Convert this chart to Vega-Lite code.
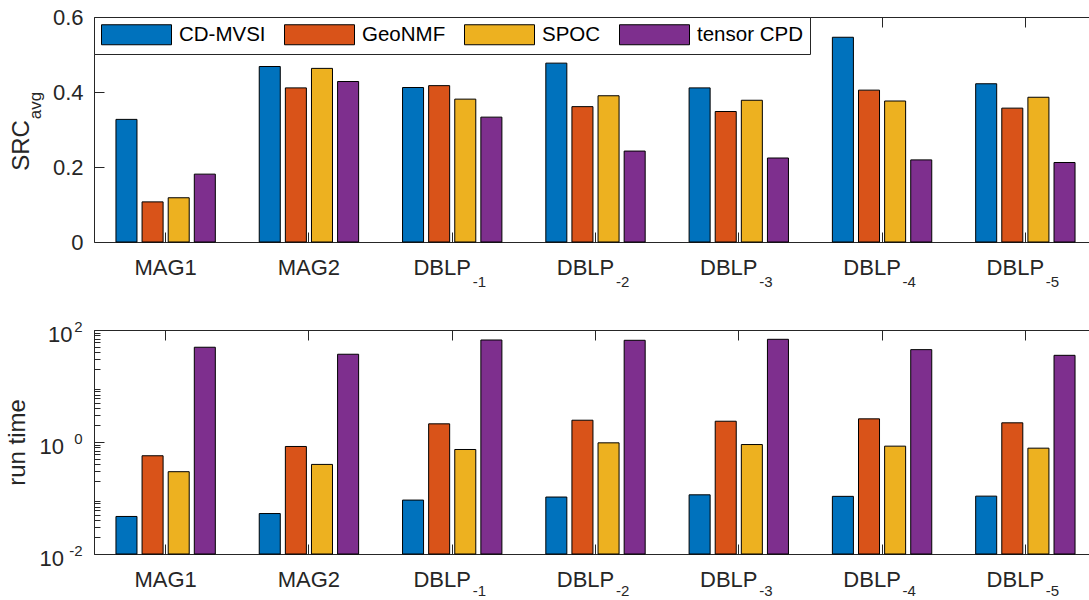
{
  "$schema": "https://vega.github.io/schema/vega-lite/v6.json",
  "autosize": {"type": "pad"},
  "padding": 0,
  "background": "white",
  "config": {
    "view": {"stroke": null},
    "font": "Liberation Sans",
    "axis": {
      "labelFont": "Liberation Sans", "titleFont": "Liberation Sans",
      "labelColor": "#262626", "titleColor": "#262626",
      "domainColor": "#262626", "tickColor": "#262626", "gridColor": "#262626",
      "grid": false, "labelFontSize": 22, "titleFontSize": 24,
      "titleFontWeight": "normal", "domainWidth": 1, "tickWidth": 1, "gridWidth": 1, "gridOpacity": 1
    }
  },
  "data": {"values": [
    {"d": "MAG1", "m": "CD-MVSI", "src": 0.327, "t": 0.0468},
    {"d": "MAG1", "m": "GeoNMF", "src": 0.107, "t": 0.568},
    {"d": "MAG1", "m": "SPOC", "src": 0.118, "t": 0.295},
    {"d": "MAG1", "m": "tensor CPD", "src": 0.181, "t": 49.2},
    {"d": "MAG2", "m": "CD-MVSI", "src": 0.468, "t": 0.0528},
    {"d": "MAG2", "m": "GeoNMF", "src": 0.411, "t": 0.832},
    {"d": "MAG2", "m": "SPOC", "src": 0.463, "t": 0.398},
    {"d": "MAG2", "m": "tensor CPD", "src": 0.428, "t": 36.9},
    {"d": "DBLP-1", "m": "CD-MVSI", "src": 0.412, "t": 0.0918},
    {"d": "DBLP-1", "m": "GeoNMF", "src": 0.417, "t": 2.11},
    {"d": "DBLP-1", "m": "SPOC", "src": 0.381, "t": 0.735},
    {"d": "DBLP-1", "m": "tensor CPD", "src": 0.333, "t": 66.3},
    {"d": "DBLP-2", "m": "CD-MVSI", "src": 0.477, "t": 0.104},
    {"d": "DBLP-2", "m": "GeoNMF", "src": 0.361, "t": 2.45},
    {"d": "DBLP-2", "m": "SPOC", "src": 0.390, "t": 0.966},
    {"d": "DBLP-2", "m": "tensor CPD", "src": 0.2425, "t": 65.5},
    {"d": "DBLP-3", "m": "CD-MVSI", "src": 0.411, "t": 0.114},
    {"d": "DBLP-3", "m": "GeoNMF", "src": 0.348, "t": 2.35},
    {"d": "DBLP-3", "m": "SPOC", "src": 0.378, "t": 0.901},
    {"d": "DBLP-3", "m": "tensor CPD", "src": 0.224, "t": 68.2},
    {"d": "DBLP-4", "m": "CD-MVSI", "src": 0.546, "t": 0.107},
    {"d": "DBLP-4", "m": "GeoNMF", "src": 0.405, "t": 2.59},
    {"d": "DBLP-4", "m": "SPOC", "src": 0.376, "t": 0.843},
    {"d": "DBLP-4", "m": "tensor CPD", "src": 0.219, "t": 44.6},
    {"d": "DBLP-5", "m": "CD-MVSI", "src": 0.422, "t": 0.108},
    {"d": "DBLP-5", "m": "GeoNMF", "src": 0.357, "t": 2.20},
    {"d": "DBLP-5", "m": "SPOC", "src": 0.386, "t": 0.776},
    {"d": "DBLP-5", "m": "tensor CPD", "src": 0.212, "t": 35.3}
  ]},
  "spacing": 88,
  "bounds": "flush",
  "resolve": {"scale": {"color": "independent"}, "legend": {"color": "independent"}},
  "vconcat": [
    {
      "width": 994, "height": 225,
      "resolve": {"axis": {"x": "independent", "y": "independent"}},
      "layer": [
        {
          "mark": {"type": "bar", "stroke": "#000", "strokeWidth": 1},
          "encoding": {
            "x": {"field": "d", "type": "nominal",
              "sort": ["MAG1", "MAG2", "DBLP-1", "DBLP-2", "DBLP-3", "DBLP-4", "DBLP-5"],
              "scale": {"paddingInner": 0.271, "paddingOuter": 0.1355, "rangeMax": 1003},
              "axis": {"orient": "bottom", "title": null, "labelAngle": 0, "tickSize": -10, "domain": false,
                "labelPadding": 42, "labelBaseline": "alphabetic",
                "labelExpr": "indexof(datum.value,'DBLP')==0 ? 'DBLP' : datum.value",
                "labelOffset": {"condition": {"test": "indexof(datum.value,'DBLP')==0", "value": -10}, "value": 0}}},
            "xOffset": {"field": "m", "type": "nominal",
              "sort": ["CD-MVSI", "GeoNMF", "SPOC", "tensor CPD"],
              "scale": {"paddingInner": 0.195, "paddingOuter": 0.0975}},
            "y": {"field": "src", "type": "quantitative", "stack": null,
              "scale": {"domain": [0, 0.6], "nice": false},
              "axis": {"values": [0, 0.2, 0.4, 0.6],
                "labelExpr": "datum.value==0 ? '0' : format(datum.value,'.1f')",
                "tickSize": -10, "labelPadding": 21,
                "title": "SRC", "titleAngle": -90, "titleBaseline": "alphabetic",
                "titleAlign": "center", "titleX": -65.7, "titleY": 128}},
            "color": {"field": "m", "type": "nominal",
              "sort": ["CD-MVSI", "GeoNMF", "SPOC", "tensor CPD"],
              "scale": {"domain": ["CD-MVSI", "GeoNMF", "SPOC", "tensor CPD"],
                "range": ["#0072BD", "#D95319", "#EDB120", "#7E2F8E"]},
              "legend": {"orient": "none", "legendX": 0, "legendY": 0,
                "direction": "horizontal", "title": null,
                "symbolType": "M-1,-1L6,-1L6,1L-1,1Z", "symbolSize": 400,
                "symbolStrokeColor": "#000", "symbolStrokeWidth": 1, "symbolOpacity": 1,
                "labelOffset": 57, "labelFontSize": 20.5, "labelFont": "Liberation Sans",
                "labelColor": "#000", "columnPadding": 16, "padding": 7,
                "strokeColor": "#262626", "fillColor": "white", "labelLimit": 300}}
          }
        },
        {
          "mark": {"type": "bar", "opacity": 0},
          "encoding": {
            "x": {"field": "d", "type": "nominal",
              "sort": ["MAG1", "MAG2", "DBLP-1", "DBLP-2", "DBLP-3", "DBLP-4", "DBLP-5"],
              "axis": {"orient": "top", "labels": false, "tickSize": -10, "title": null, "domain": false}},
            "y": {"field": "src", "type": "quantitative", "stack": null,
              "axis": {"orient": "left", "values": [0, 0.6], "grid": true, "ticks": false,
                "labels": false, "domain": false,
                "title": ".", "titleOpacity": 0, "titleAngle": 0, "titleAlign": "left",
                "titleBaseline": "top", "titleX": -94, "titleY": -17}}
          }
        },
        {
          "mark": {"type": "bar", "opacity": 0},
          "encoding": {
            "x": {"field": "d", "type": "nominal",
              "sort": ["MAG1", "MAG2", "DBLP-1", "DBLP-2", "DBLP-3", "DBLP-4", "DBLP-5"],
              "axis": {"orient": "bottom", "title": null, "ticks": false, "domain": false,
                "labelAngle": 0, "labelFontSize": 15, "labelAlign": "left",
                "labelOffset": 20.5, "labelBaseline": "alphabetic", "labelPadding": 44.7,
                "labelExpr": "indexof(datum.value,'DBLP')==0 ? replace(datum.value,'DBLP','') : ''"}},
            "y": {"field": "src", "type": "quantitative", "stack": null,
              "axis": {"orient": "left", "labels": false, "ticks": false, "domain": false,
                "title": "avg", "titleFontSize": 17, "titleAngle": -90,
                "titleBaseline": "alphabetic", "titleAlign": "center",
                "titleX": -54, "titleY": 88}}
          }
        }
      ]
    },
    {
      "width": 994, "height": 224,
      "resolve": {"axis": {"x": "independent", "y": "independent"}},
      "layer": [
        {
          "mark": {"type": "bar", "stroke": "#000", "strokeWidth": 1},
          "encoding": {
            "x": {"field": "d", "type": "nominal",
              "sort": ["MAG1", "MAG2", "DBLP-1", "DBLP-2", "DBLP-3", "DBLP-4", "DBLP-5"],
              "scale": {"paddingInner": 0.271, "paddingOuter": 0.1355, "rangeMax": 1003},
              "axis": {"orient": "bottom", "title": null, "labelAngle": 0, "tickSize": -10, "domain": false,
                "labelPadding": 42, "labelBaseline": "alphabetic",
                "labelExpr": "indexof(datum.value,'DBLP')==0 ? 'DBLP' : datum.value",
                "labelOffset": {"condition": {"test": "indexof(datum.value,'DBLP')==0", "value": -10}, "value": 0}}},
            "xOffset": {"field": "m", "type": "nominal",
              "sort": ["CD-MVSI", "GeoNMF", "SPOC", "tensor CPD"],
              "scale": {"paddingInner": 0.195, "paddingOuter": 0.0975}},
            "y": {"field": "t", "type": "quantitative", "stack": null,
              "scale": {"type": "log", "domain": [0.01, 100], "nice": false},
              "axis": {"values": [0.01, 1, 100], "labelExpr": "'10'",
                "tickSize": -10,
                "labelPadding": {"condition": {"test": "datum.value==100", "value": 32}, "value": 40.4},
                "labelOffset": 4.5,
                "title": "run time", "titleAngle": -90, "titleBaseline": "alphabetic",
                "titleAlign": "center", "titleX": -69.5, "titleY": 112}},
            "color": {"field": "m", "type": "nominal",
              "sort": ["CD-MVSI", "GeoNMF", "SPOC", "tensor CPD"],
              "scale": {"domain": ["CD-MVSI", "GeoNMF", "SPOC", "tensor CPD"],
                "range": ["#0072BD", "#D95319", "#EDB120", "#7E2F8E"]},
              "legend": null}
          }
        },
        {
          "mark": {"type": "bar", "opacity": 0},
          "encoding": {
            "x": {"field": "d", "type": "nominal",
              "sort": ["MAG1", "MAG2", "DBLP-1", "DBLP-2", "DBLP-3", "DBLP-4", "DBLP-5"],
              "axis": {"orient": "top", "labels": false, "tickSize": -10, "title": null, "domain": false}},
            "y": {"field": "t", "type": "quantitative", "stack": null,
              "axis": {"orient": "left", "labels": false, "domain": false, "title": null,
                "tickSize": -6,
                "values": [0.02, 0.03, 0.04, 0.05, 0.06, 0.07, 0.08, 0.09,
                  0.2, 0.3, 0.4, 0.5, 0.6, 0.7, 0.8, 0.9,
                  2, 3, 4, 5, 6, 7, 8, 9,
                  20, 30, 40, 50, 60, 70, 80, 90]}}
          }
        },
        {
          "mark": {"type": "bar", "opacity": 0},
          "encoding": {
            "x": {"field": "d", "type": "nominal",
              "sort": ["MAG1", "MAG2", "DBLP-1", "DBLP-2", "DBLP-3", "DBLP-4", "DBLP-5"],
              "axis": {"orient": "bottom", "title": null, "ticks": false, "domain": false,
                "labelAngle": 0, "labelFontSize": 15, "labelAlign": "left",
                "labelOffset": 20.5, "labelBaseline": "alphabetic", "labelPadding": 41,
                "labelExpr": "indexof(datum.value,'DBLP')==0 ? replace(datum.value,'DBLP','') : ''"}},
            "y": {"field": "t", "type": "quantitative", "stack": null,
              "axis": {"orient": "left", "ticks": false, "domain": false, "title": null,
                "values": [0.01, 1, 100],
                "labelExpr": "datum.value==100 ? '2' : (datum.value==1 ? '0' : '-2')",
                "labelFontSize": 15, "labelAlign": "right", "labelPadding": 12,
                "labelOffset": -4}}
          }
        },
        {
          "mark": {"type": "bar", "opacity": 0},
          "encoding": {
            "x": {"field": "d", "type": "nominal",
              "sort": ["MAG1", "MAG2", "DBLP-1", "DBLP-2", "DBLP-3", "DBLP-4", "DBLP-5"],
              "axis": null},
            "y": {"field": "t", "type": "quantitative", "stack": null,
              "axis": {"orient": "left", "values": [0.01, 100], "grid": true, "ticks": false,
                "labels": false, "domain": true, "title": null}}
          }
        }
      ]
    }
  ]
}
